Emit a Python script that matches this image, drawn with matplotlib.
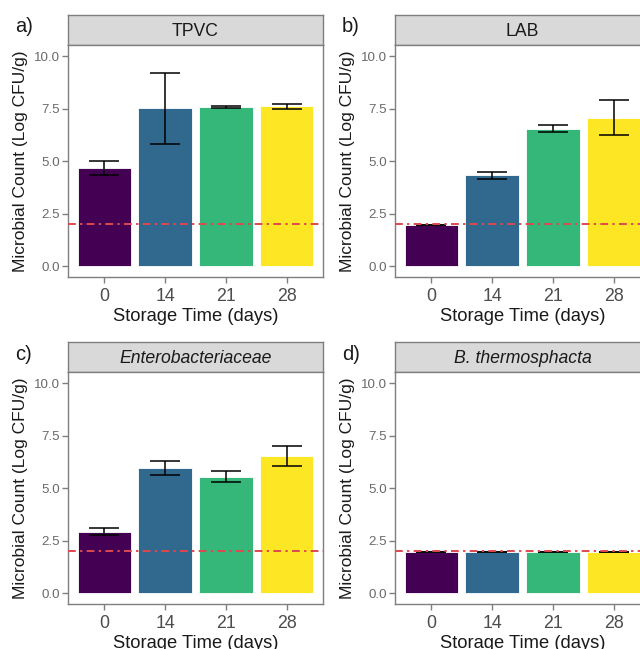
import numpy as np
import matplotlib
matplotlib.use('Agg')
import matplotlib.pyplot as plt

plt.rcParams['font.family'] = ['Liberation Sans', 'DejaVu Sans']

#==================== DATA ==========================
days = ['0', '14', '21', '28']

tpvc_mean = [4.68, 7.52, 7.58, 7.62]
tpvc_sd = [0.32, 1.70, 0.03, 0.12]

lab_mean = [1.98, 4.33, 6.56, 7.08]
lab_sd = [0.0, 0.16, 0.17, 0.83]

entero_mean = [2.94, 5.97, 5.55, 6.54]
entero_sd = [0.15, 0.33, 0.27, 0.46]

brocho_mean = [1.98, 1.98, 1.98, 1.98]
brocho_sd = [0.0, 0.0, 0.0, 0.0]

detection_limit = 2.0
yticks = [0.0, 2.5, 5.0, 7.5, 10.0]
#====================================================

bar_colors = ['#440154', '#31688E', '#35B779', '#FDE725']
frame_col = '#7f7f7f'
tick_col = '#4d4d4d'

W, H = 640, 649
fig = plt.figure(figsize=(W / 100, H / 100), dpi=100)


def px_box(left, top, width, height):
    # pixel box -> figure fraction rect
    return [left / W, 1 - (top + height) / H, width / W, height / H]


def facet(left, top, title, tag, means, sds, italic=False):
    panel_w = 255
    strip_h = 30
    plot_h = 232

    # strip on top of the panel
    strip = fig.add_axes(px_box(left, top, panel_w, strip_h))
    strip.set_facecolor('#d9d9d9')
    strip.set_xticks([])
    strip.set_yticks([])
    for sp in strip.spines.values():
        sp.set_color(frame_col)
        sp.set_linewidth(1.0)
    strip.text(0.5, 0.45, title, ha='center', va='center', fontsize=12.7,
               color='#1a1a1a', style='italic' if italic else 'normal',
               transform=strip.transAxes)

    ax = fig.add_axes(px_box(left, top + strip_h, panel_w, plot_h))
    x = np.arange(len(days))
    ax.bar(x, means, width=0.88, color=bar_colors, edgecolor='white',
           linewidth=0.6, zorder=2)
    ax.errorbar(x, means, yerr=sds, fmt='none', ecolor='black',
                elinewidth=1.1, capsize=11, capthick=1.1, zorder=3)
    ax.axhline(detection_limit, color='#de4850', lw=1.4,
               linestyle=(0, (4, 2.2, 1.2, 2.2)), zorder=4)

    ax.set_xlim(-0.6, 3.6)
    ax.set_ylim(-0.5, 10.53)
    ax.set_xticks(x)
    ax.set_xticklabels(days, fontsize=12.8, color=tick_col)
    ax.set_yticks(yticks)
    ax.set_yticklabels(['%.1f' % v for v in yticks], fontsize=9.6, color='#6a6a6a')
    ax.tick_params(axis='both', length=4, width=1.0, color=frame_col)
    ax.tick_params(axis='x', pad=4)
    ax.tick_params(axis='y', pad=2)
    for sp in ax.spines.values():
        sp.set_color(frame_col)
        sp.set_linewidth(1.0)

    ax.set_xlabel('Storage Time (days)', fontsize=13.2, color='#1a1a1a', labelpad=2)
    ax.set_ylabel('Microbial Count (Log CFU/g)', fontsize=12.5, color='#1a1a1a')
    ax.yaxis.set_label_coords(-0.186, 0.5)
    ax.yaxis.label.set_va('center')

    fig.text((left - 53) / W, 1 - (top + 12) / H, tag, fontsize=14.5,
             ha='left', va='center', color='#1a1a1a')
    return ax


facet(68, 15, 'TPVC', 'a)', tpvc_mean, tpvc_sd)
facet(395, 15, 'LAB', 'b)', lab_mean, lab_sd)
facet(68, 342, 'Enterobacteriaceae', 'c)', entero_mean, entero_sd, italic=True)
facet(395, 342, 'B. thermosphacta', 'd)', brocho_mean, brocho_sd, italic=True)

fig.savefig('out.png', dpi=100)
